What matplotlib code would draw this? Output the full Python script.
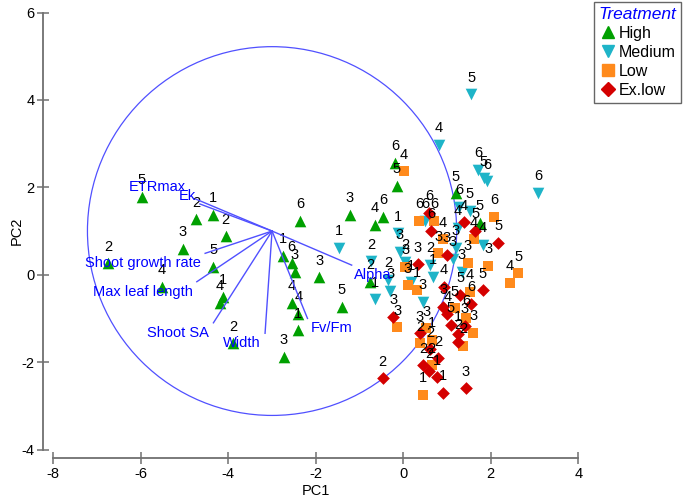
import matplotlib
matplotlib.use("Agg")
import matplotlib.pyplot as plt
from matplotlib.patches import Circle
from matplotlib.lines import Line2D

plt.rcParams['font.family'] = ['Liberation Sans', 'DejaVu Sans']
plt.rcParams['axes.unicode_minus'] = False

# ---------------- data ----------------
high_x = [-5.98, -4.74, -4.34, -4.06, -5.04, -6.74, -4.34, -5.52, -4.13, -4.19, -3.89,
          -2.36, -1.22, -2.74, -2.55, -2.48, -1.92, -2.55, -2.40, -2.40, -2.73, -1.41,
          -0.19, -0.15, 1.20, -0.46, -0.65, 1.75, -0.75]
high_y = [1.78, 1.27, 1.37, 0.88, 0.60, 0.26, 0.18, -0.27, -0.50, -0.64, -1.57,
          1.24, 1.37, 0.43, 0.26, 0.07, -0.06, -0.65, -0.90, -1.27, -1.88, -0.73,
          2.56, 2.03, 1.86, 1.33, 1.14, 1.19, -0.16]
high_lab = ['5', '2', '1', '2', '3', '2', '5', '4', '1', '4', '2',
            '6', '3', '1', '6', '3', '3', '4', '4', '1', '3', '5',
            '6', '5', '5', '6', '4', '5', '2']

med_x = [1.55, 0.82, 1.71, 1.84, 1.91, 3.08, 1.27, 1.52, -1.47, 0.50, -0.12, -0.08,
         1.24, 1.82, 1.20, 1.13, 0.61, 0.04, -0.74, -0.35, -0.65, -0.30, 0.68, 0.45,
         1.34, 0.18]
med_y = [4.13, 2.97, 2.40, 2.21, 2.14, 1.87, 1.55, 1.46, 0.61, 1.23, 0.95, 0.53,
         1.07, 0.68, 0.61, 0.36, 0.22, 0.29, 0.31, -0.12, -0.56, -0.37, -0.05, -0.62,
         0.06, -0.17]
med_lab = ['5', '4', '6', '5', '6', '6', '6', '5', '1', '6', '1', '3',
           '4', '4', '3', '3', '2', '2', '2', '2', '1', '3', '1', '3',
           '3', '1']

low_x = [0.02, 2.08, 0.37, 0.71, 0.90, 1.62, 0.80, 1.47, 0.04, 1.94, 2.44, 2.63,
         0.10, 0.31, 1.52, -0.14, 0.53, 0.38, 0.65, 1.18, 1.60, 1.37, 0.44, 0.65, 1.43]
low_y = [2.37, 1.33, 1.24, 1.24, 0.81, 0.81, 0.49, 0.27, 0.18, 0.20, -0.18, 0.03,
         -0.24, -0.35, -0.39, -1.20, -1.23, -1.57, -1.49, -0.77, -1.33, -1.63, -2.75, -2.07, -0.99]
low_lab = ['4', '6', '6', '6', '4', '4', '3', '3', '3', '3', '4', '5',
           '3', '1', '4', '3', '3', '2', '1', '5', '3', '2', '1', '2', '6']

exl_x = [0.59, 1.39, 0.63, 1.64, 2.17, 0.99, 0.33, 1.82, -0.23, 1.30, 0.91, 1.01,
         1.55, 1.09, 1.41, 1.25, 1.26, 0.38, 0.62, 0.80, 0.46, 0.59, 0.76, 0.90,
         1.43, -0.47, 0.93]
exl_y = [1.41, 1.20, 1.00, 1.00, 0.73, 0.45, 0.24, -0.36, -0.97, -0.46, -0.73, -0.90,
         -0.67, -1.15, -1.17, -1.36, -1.53, -1.34, -1.71, -1.91, -2.07, -2.20, -2.35, -2.71,
         -2.60, -2.37, -0.28]
exl_lab = ['6', '4', '6', '5', '5', '3', '3', '5', '3', '5', '3', '4',
           '6', '5', '3', '1', '2', '3', '2', '2', '2', '2', '1', '1',
           '3', '2', '4']

# correlation vectors (end points), origin and circle
vec_names = ['ETRmax', 'Ek', 'Shoot growth rate', 'Max leaf length', 'Shoot SA',
             'Width', 'Fv/Fm', 'Alpha']
vec_x = [-4.74, -4.65, -4.53, -4.72, -4.34, -3.16, -2.19, -1.18]
vec_y = [1.73, 1.62, 0.49, -0.16, -1.10, -1.34, -1.00, 0.22]
vec_ha = ['right', 'right', 'right', 'right', 'right', 'right', 'left', 'left']
vec_va = ['bottom', 'bottom', 'top', 'top', 'top', 'top', 'top', 'top']
origin = (-3.0, 1.0)
radius = 4.22

groups = ['High', 'Medium', 'Low', 'Ex.low']
colors = ['#00a000', '#1eb4c8', '#ff8a1c', '#d40000']
markers = ['^', 'v', 's', 'D']
sizes = [70, 70, 55, 42]

# ---------------- figure ----------------
fig = plt.figure(figsize=(6.86, 4.99), dpi=100)
ax = fig.add_axes([0.0586, 0.0729, 0.8035, 0.9194])
ax.set_xlim(-8.3, 4.3)
ax.set_ylim(-4.3, 6.2)

blue = '#0000ff'
ax.add_patch(Circle(origin, radius, fill=False, edgecolor='#5050ff', lw=0.9, zorder=1))

data = [(high_x, high_y, high_lab), (med_x, med_y, med_lab),
        (low_x, low_y, low_lab), (exl_x, exl_y, exl_lab)]
for (xs, ys, labs), col, mk, sz in zip(data, colors, markers, sizes):
    ax.scatter(xs, ys, marker=mk, s=sz, c=col, linewidths=0, zorder=3, clip_on=False)
for (xs, ys, labs) in data:
    for xv, yv, lb in zip(xs, ys, labs):
        ax.annotate(lb, (xv, yv), xytext=(0, 12), textcoords='offset points',
                    ha='center', va='center', fontsize=10.5, color='black', zorder=4)

for name, ex, ey, ha, va in zip(vec_names, vec_x, vec_y, vec_ha, vec_va):
    ax.plot([origin[0], ex], [origin[1], ey], color='#5050ff', lw=1.0, zorder=5)
    dx = -3 if ha == 'right' else 2
    dy = 4 if va == 'bottom' else -2
    if name == 'ETRmax':
        dx, dy = -7, 4
    if name == 'Ek':
        dx, dy = -3, 1
    ax.annotate(name, (ex, ey), xytext=(dx, dy), textcoords='offset points',
                ha=ha, va=va, fontsize=10.5, color=blue, zorder=6)

# axes styling
for s in ['top', 'right']:
    ax.spines[s].set_visible(False)
ax.spines['left'].set_position(('data', -8.24))
ax.spines['bottom'].set_position(('data', -4.19))
ax.spines['left'].set_bounds(-4, 6)
ax.spines['bottom'].set_bounds(-8, 4)
for s in ['left', 'bottom']:
    ax.spines[s].set_color('#707070')
    ax.spines[s].set_linewidth(1.3)
ax.set_xticks([-8, -6, -4, -2, 0, 2, 4])
ax.set_yticks([-4, -2, 0, 2, 4, 6])
ax.tick_params(axis='both', direction='inout', length=9, width=1.1, color='#707070',
               labelsize=10.5, pad=1.5)
ax.tick_params(axis='x', pad=2)
ax.set_xlabel('PC1', fontsize=10.5, va='center')
ax.set_ylabel('PC2', fontsize=10.5, va='center')
ax.xaxis.set_label_coords((-2 + 8.3) / 12.6, -0.062)
ax.yaxis.set_label_coords(-0.042, (1 + 4.3) / 10.5)

handles = [Line2D([], [], marker=m, color=c, linestyle='none', markersize=9 if m in '^v' else 8 if m == 's' else 7)
           for m, c in zip(markers, colors)]
leg = fig.legend(handles, groups, title='Treatment', loc='upper right',
                 bbox_to_anchor=(681 / 686, 1 - 2 / 499), fontsize=11.5,
                 frameon=True, fancybox=False, edgecolor='#404040',
                 handletextpad=0.1, handlelength=1.2, borderpad=0.3,
                 labelspacing=0.25, borderaxespad=0)
leg.get_title().set_color(blue)
leg.get_title().set_fontstyle('italic')
leg.get_title().set_fontsize(12.5)
leg.get_frame().set_linewidth(1.0)

fig.savefig('out.png', dpi=100)
